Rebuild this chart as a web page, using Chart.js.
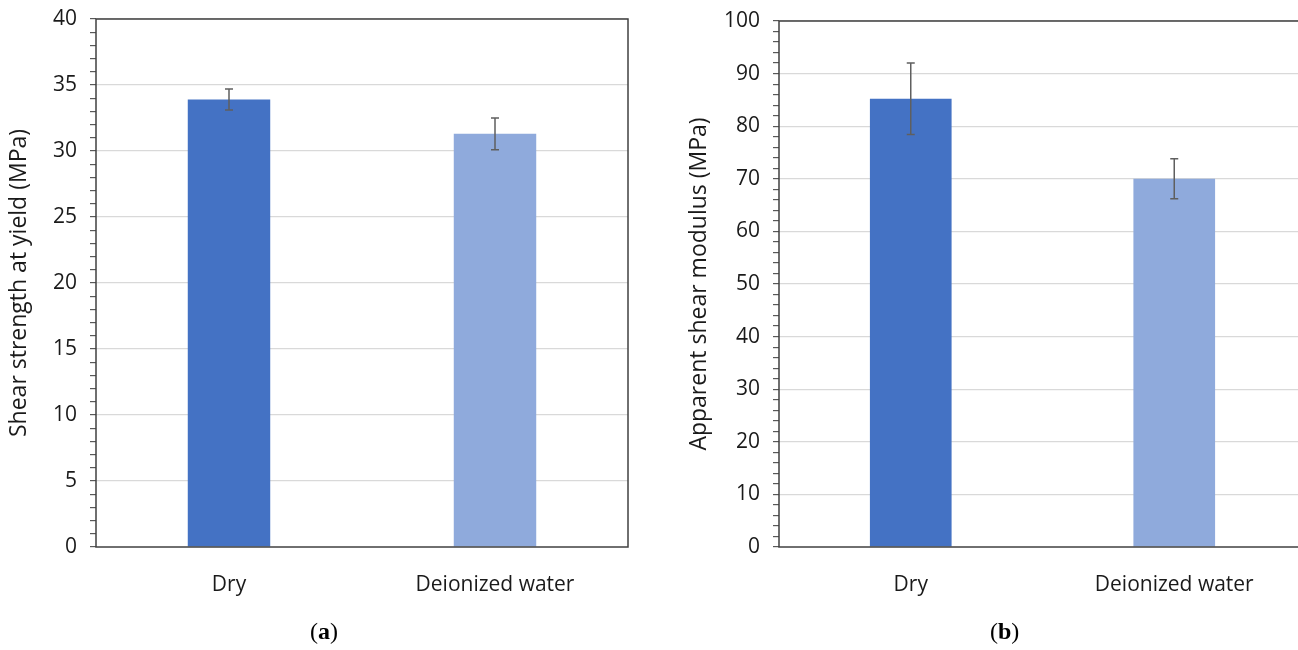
<!DOCTYPE html>
<html>
<head>
<meta charset="utf-8">
<script src="https://cdn.jsdelivr.net/npm/chart.js@4"></script>
<style>
    html, body { margin: 0; padding: 0; background: #fff; overflow: hidden; width: 1298px; height: 650px; }
    .box { position: absolute; top: 0; height: 650px; }
    .cap { position: absolute; top: 618px; font-family: "Liberation Serif", serif; font-size: 24px; color: #000; }
    .cap b { font-weight: bold; }
</style>
</head>
<body>
<div class="box" style="left:0; width:650px;"><canvas id="chartA"></canvas></div>
<div class="box" style="left:650px; width:670px;"><canvas id="chartB"></canvas></div>
<div class="cap" style="left:310px;">(<b>a</b>)</div>
<div class="cap" style="left:990px;">(<b>b</b>)</div>

<script>
// data
const categories = ['Dry', 'Deionized water'];
const shearStrength = [33.9, 31.3];
const shearStrengthErr = [0.8, 1.2];
const shearModulus = [85.2, 70.0];
const shearModulusErr = [6.8, 3.8];
const barColors = ['#4472c4', '#8faadc'];

// y axis: max, labelled step, minor step
const strengthAxis = [40, 5, 1];
const modulusAxis = [100, 10, 2];

const FONT = '"Open Sans", "Noto Sans", sans-serif';
const TEXT = '#1a1a1a';
const SIZE = 21;

// frame round the plot area + error bars
const extras = {
    id: 'extras',
    afterDatasetsDraw(chart, args, opts) {
        const ctx = chart.ctx;
        const a = chart.chartArea;
        const y = chart.scales.y;
        const meta = chart.getDatasetMeta(0);
        const vals = chart.data.datasets[0].data;

        ctx.save();
        ctx.strokeStyle = '#5f5f5f';
        ctx.lineWidth = 1.5;
        meta.data.forEach((bar, i) => {
            const top = y.getPixelForValue(vals[i] + opts.err[i]);
            const bot = y.getPixelForValue(vals[i] - opts.err[i]);
            ctx.beginPath();
            ctx.moveTo(bar.x, top); ctx.lineTo(bar.x, bot);
            ctx.moveTo(bar.x - 4, top); ctx.lineTo(bar.x + 4, top);
            ctx.moveTo(bar.x - 4, bot); ctx.lineTo(bar.x + 4, bot);
            ctx.stroke();
        });

        ctx.strokeStyle = '#404040';
        ctx.lineWidth = 1.5;
        ctx.strokeRect(a.left, a.top, a.right - a.left, a.bottom - a.top);
        ctx.restore();
    }
};

function makeChart(id, values, err, axis, title, yWidth, padRight, padTop, titleGap) {
    const [max, major, minor] = axis;
    return new Chart(document.getElementById(id), {
        type: 'bar',
        data: {
            labels: categories,
            datasets: [{
                data: values,
                backgroundColor: barColors,
                borderWidth: 0,
                categoryPercentage: 1,
                barPercentage: 0.31
            }]
        },
        options: {
            responsive: true,
            maintainAspectRatio: false,
            animation: false,
            layout: { padding: { left: 0, right: padRight, top: padTop, bottom: 0 } },
            plugins: {
                legend: { display: false },
                tooltip: { enabled: false },
                extras: { err: err }
            },
            scales: {
                x: {
                    grid: { display: false },
                    border: { display: false },
                    ticks: { color: TEXT, font: { family: FONT, size: SIZE }, padding: 17 },
                    afterFit: s => { s.height = 103; s.paddingLeft = 0; s.paddingRight = 0; }
                },
                y: {
                    min: 0,
                    max: max,
                    afterFit: s => { s.width = yWidth; s.paddingTop = 0; s.paddingBottom = 0; },
                    border: { display: false },
                    grid: {
                        color: c => (c.tick.value % major === 0 && c.tick.value !== 0) ? '#d9d9d9' : 'rgba(0,0,0,0)',
                        tickColor: '#595959',
                        tickLength: 6,
                        lineWidth: 1.2
                    },
                    ticks: {
                        stepSize: minor,
                        autoSkip: false,
                        padding: 13,
                        color: TEXT,
                        font: { family: FONT, size: SIZE },
                        callback: v => (v % major === 0 ? v : '')
                    },
                    title: {
                        display: true,
                        text: title,
                        color: TEXT,
                        font: { family: FONT, size: 23 },
                        padding: { top: titleGap, bottom: 0 }
                    }
                }
            }
        },
        plugins: [extras]
    });
}

makeChart('chartA', shearStrength, shearStrengthErr, strengthAxis, 'Shear strength at yield (MPa)', 96, 22, 19, 6);
makeChart('chartB', shearModulus, shearModulusErr, modulusAxis, 'Apparent shear modulus (MPa)', 129, 14, 21, 36);
</script>
</body>
</html>
